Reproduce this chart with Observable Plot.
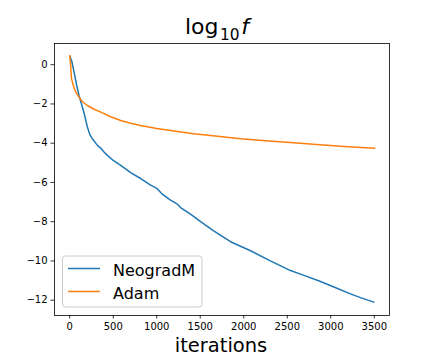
<!DOCTYPE html>
<html>
<head>
<meta charset="utf-8">
<script src="https://cdn.jsdelivr.net/npm/d3@7"></script>
<script src="https://cdn.jsdelivr.net/npm/@observablehq/plot@0.6"></script>
<style>
  body { margin: 0; background: white; }
  #chart { width: 432px; height: 360px; }
</style>
</head>
<body>
<div id="chart"></div>
<script>
// Series names
const seriesNames = ["NeogradM", "Adam"];
const seriesColors = ["#1f77b4", "#ff7f0e"];

// NeogradM: iterations and log10 f
const neoIter = [0, 25, 50, 80, 107, 146, 172, 203, 230, 260, 318, 356, 394, 433, 500, 586, 700, 815, 930, 1000, 1064, 1150, 1236, 1274, 1400, 1504, 1650, 1848, 2078, 2300, 2537, 2700, 2882, 3050, 3226, 3350, 3494];
const neoVal  = [0.45, 0.15, -0.39, -1.05, -1.57, -2.17, -2.59, -3.18, -3.55, -3.77, -4.11, -4.25, -4.45, -4.62, -4.88, -5.13, -5.5, -5.8, -6.14, -6.3, -6.6, -6.88, -7.1, -7.28, -7.65, -8.0, -8.45, -9.02, -9.48, -9.98, -10.49, -10.75, -11.05, -11.35, -11.68, -11.88, -12.1];

// Adam: iterations and log10 f
const adamIter = [0, 10, 20, 40, 70, 107, 150, 203, 280, 356, 470, 586, 700, 815, 1000, 1200, 1427, 1700, 1963, 2250, 2537, 2800, 3111, 3300, 3505];
const adamVal  = [0.45, 0.0, -0.7, -1.05, -1.4, -1.66, -1.9, -2.08, -2.27, -2.42, -2.65, -2.84, -2.98, -3.10, -3.25, -3.38, -3.52, -3.65, -3.77, -3.87, -3.97, -4.06, -4.15, -4.21, -4.26];

// Tick values
const xTicks = [0, 500, 1000, 1500, 2000, 2500, 3000, 3500];
const yTicks = [-12, -10, -8, -6, -4, -2, 0];

const rows = [
  ...neoIter.map((x, i) => ({series: seriesNames[0], x, y: neoVal[i]})),
  ...adamIter.map((x, i) => ({series: seriesNames[1], x, y: adamVal[i]}))
];

const W = 432, H = 360;
const mL = 54, mR = 43, mT = 43, mB = 45;

const fmt = d3.format("d");

const plot = Plot.plot({
  width: W,
  height: H,
  marginLeft: mL,
  marginRight: mR,
  marginTop: mT,
  marginBottom: mB,
  style: {fontFamily: "DejaVu Sans", fontSize: "10px", color: "black", background: "white"},
  x: {domain: [-175, 3675]},
  y: {domain: [-12.78, 1.08]},
  color: {domain: seriesNames, range: seriesColors},
  marks: [
    Plot.line(rows, {x: "x", y: "y", z: "series", stroke: "series", strokeWidth: 1.5}),
    Plot.frame({stroke: "black", strokeWidth: 0.8}),
    Plot.axisX({ticks: xTicks, tickSize: 3.5, tickPadding: 3.5, tickFormat: fmt, label: null, fontSize: 10, strokeWidth: 0.8}),
    Plot.axisY({ticks: yTicks, tickSize: 3.5, tickPadding: 3.5, tickFormat: fmt, label: null, fontSize: 10, strokeWidth: 0.8})
  ]
});

document.getElementById("chart").appendChild(plot);

const svg = d3.select(plot);

function txt(sel, size) {
  return sel.style("font-family", "DejaVu Sans").style("font-size", size + "px").style("fill", "black");
}

// Title: log10 f
const title = txt(svg.append("text"), 22)
  .attr("x", 185).attr("y", 34)
  .style("text-anchor", "start");
title.append("tspan").text("log");
txt(title.append("tspan"), 15.4).attr("dx", 1.5).attr("dy", 5.5).text("10");
txt(title.append("tspan"), 22).attr("dx", 1.5).attr("dy", -5.5).style("font-style", "italic").text("f");

// X label
txt(svg.append("text"), 19.5)
  .attr("x", 221).attr("y", 351.5)
  .style("text-anchor", "middle")
  .text("iterations");

// Legend
const lg = svg.append("g");
lg.append("rect")
  .attr("x", 62.5).attr("y", 256).attr("width", 139.5).attr("height", 51)
  .attr("rx", 3).attr("ry", 3)
  .attr("fill", "white").attr("fill-opacity", 0.8)
  .attr("stroke", "#cccccc").attr("stroke-width", 1);
seriesNames.forEach((name, i) => {
  const y = 268.5 + i * 23;
  lg.append("line")
    .attr("x1", 68).attr("x2", 100).attr("y1", y).attr("y2", y)
    .attr("stroke", seriesColors[i]).attr("stroke-width", 1.5);
  txt(lg.append("text"), 16)
    .attr("x", 113).attr("y", y + 7.3)
    .style("text-anchor", "start")
    .text(name);
});
</script>
</body>
</html>
